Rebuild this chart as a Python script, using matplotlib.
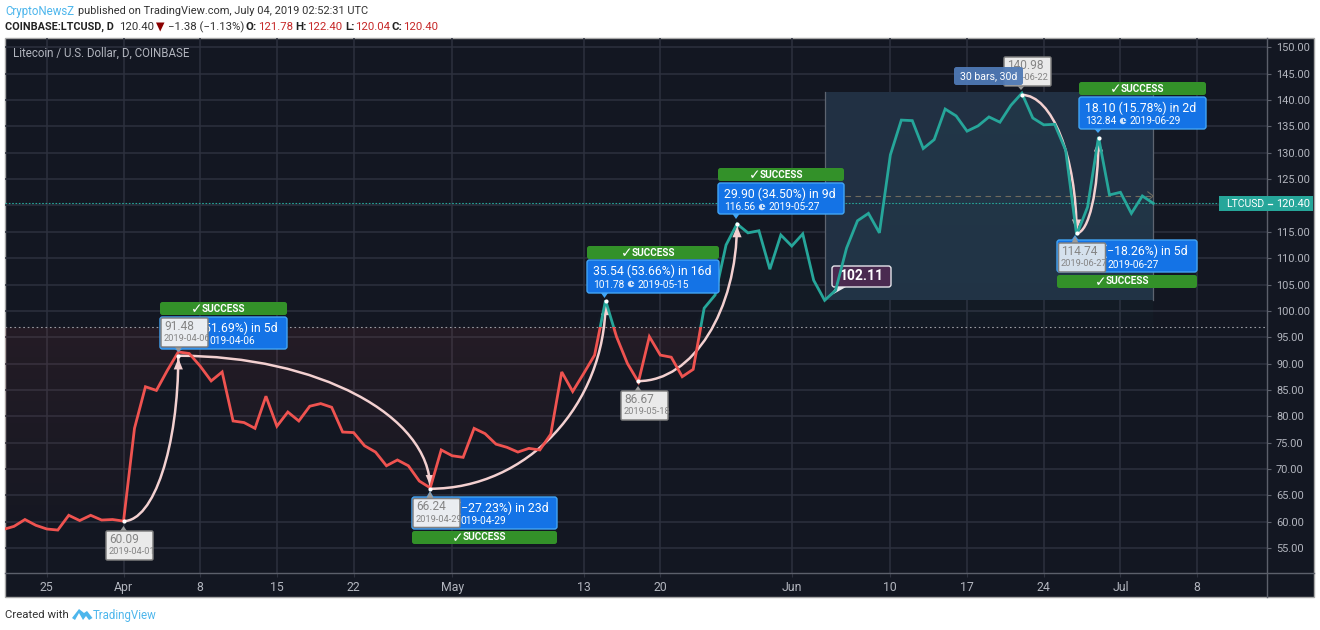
import numpy as np
import pandas as pd
import matplotlib

matplotlib.use("Agg")
import matplotlib.dates as mdates
import matplotlib.pyplot as plt
from matplotlib.patches import Circle, FancyBboxPatch, PathPatch, Polygon, Rectangle
from matplotlib.path import Path
from matplotlib.transforms import Affine2D

plt.rcParams["font.family"] = ["Roboto", "DejaVu Sans"]

start_date = "2019-03-21"
close = [
    58.5, 59.1, 60.4, 59.3, 58.6, 58.4, 61.2, 60.2, 61.2, 60.3, 60.4,
    60.1, 77.7, 85.6, 84.9, 88.7, 92.2, 91.9, 89.5, 86.7, 88.4, 79.1,
    78.8, 77.7, 83.8, 78.1, 80.8, 79.1, 81.9, 82.4, 81.7, 77.0, 76.9,
    74.4, 73.2, 70.6, 71.7, 70.6, 67.7, 66.4, 73.6, 72.5, 72.2, 77.7,
    76.7, 74.7, 74.1, 73.2, 73.9, 73.6, 76.6, 88.4, 84.7, 88.1, 91.6,
    102.0, 95.1, 90.0, 86.5, 95.1, 91.6, 91.2, 87.5, 88.9, 100.5, 103.0,
    112.5, 116.5, 114.8, 115.2, 107.9, 114.4, 112.3, 114.6, 105.8, 102.0,
    103.9, 111.9, 117.1, 118.5, 114.8, 129.6, 136.2, 136.1, 130.8, 132.5,
    138.3, 137.0, 134.1, 135.1, 136.8, 135.8, 139.0, 141.3, 136.6, 135.3,
    135.4, 130.5, 114.4, 119.7, 133.0, 122.0, 122.5, 118.5, 121.8, 120.4,
]
baseline = 96.85
last_price = 120.40
open_price = 121.78

price_ticks = [55, 60, 65, 70, 75, 80, 85, 90, 95, 100, 105, 110, 115, 120,
               125, 130, 135, 140, 145, 150]
date_ticks = ["2019-03-25", "2019-04-01", "2019-04-08", "2019-04-15", "2019-04-22",
              "2019-05-01", "2019-05-13", "2019-05-20", "2019-06-01", "2019-06-10",
              "2019-06-17", "2019-06-24", "2019-07-01", "2019-07-08"]
date_labels = ["25", "Apr", "8", "15", "22", "May", "13", "20", "Jun", "10",
               "17", "24", "Jul", "8"]

# swing points joined by the curved arrows
swing_dates = ["2019-04-01", "2019-04-06", "2019-04-29", "2019-05-15", "2019-05-18",
               "2019-05-27", "2019-06-22", "2019-06-27", "2019-06-29"]
swing_prices = [60.09, 91.48, 66.24, 101.78, 86.67, 116.56, 140.98, 114.74, 132.84]
arc_pairs = [(0, 1), (1, 2), (2, 3), (4, 5), (6, 7), (7, 8)]

range_dates = ["2019-06-04", "2019-07-04"]
range_prices = [102.11, 141.46]

BG = "#131722"
GRID = "#2d313e"
AXIS = "#5c606b"
TICK = "#b2b5be"
RED = "#ef5350"
TEAL = "#26a69a"
BLUE = "#1473e6"
BLUE_EDGE = "#42a5f5"
GREEN = "#339129"
ARC = "#f3d0d0"
LINK = "#4db6ec"

fig = plt.figure(figsize=(13.2, 6.3), dpi=100, facecolor="white")
# axes placed by pixels of the 1320x630 canvas
ax = fig.add_axes([5 / 1320, 1 - 573 / 630, 1262 / 1320, 535 / 630])
ax.set_facecolor("none")
px = Affine2D().scale(1, -1).translate(0, 630)

fig.add_artist(Rectangle((5, 38), 1309, 559, transform=px, fc=BG, ec="#a8a8a8", lw=1, zorder=-1))

dates = pd.date_range(start_date, periods=len(close))
x = mdates.date2num(dates)
y = np.array(close)
apr1 = mdates.date2num(pd.Timestamp("2019-04-01"))
x_lim = (apr1 - 10.82, apr1 + 104.38)
y_lim = (50.25, 151.78)


def num(day):
    return mdates.date2num(pd.Timestamp(day))


# grid, axes and ticks; the 120.00 label is covered by the last price tag
ax.set_xticks([num(d) for d in date_ticks], date_labels)
ax.set_yticks(price_ticks, ["" if p == 120 else f"{p:.2f}" for p in price_ticks])
ax.yaxis.tick_right()
ax.grid(True, color=GRID, lw=1.1, zorder=0)
ax.set_axisbelow(True)
ax.tick_params(axis="x", colors=GRID, length=3, labelcolor=TICK, labelsize=8.8, pad=3)
ax.tick_params(axis="y", colors=AXIS, length=3, labelcolor=TICK, labelsize=7.9, pad=3.5)
for spine in ax.spines.values():
    spine.set_visible(False)

# measured date range box
r0, r1 = num(range_dates[0]), num(range_dates[1])
ax.add_patch(Rectangle((r0, range_prices[0]), r1 - r0, range_prices[1] - range_prices[0],
                       fc="#213043", ec="none", zorder=1))
ax.plot([r0, r0], range_prices, color="#5d6470", lw=0.9, zorder=1.5)
ax.plot([r1, r1], range_prices, color="#5d6470", lw=0.9, zorder=1.5)
ax.plot([r0, r1], [open_price, open_price], color="#6f6a5e", lw=0.8, ls=(0, (5, 4)), zorder=1.5)
ax.plot([r1 - 0.5, r1, r1 - 0.5], [open_price + 0.8, open_price, open_price - 0.8],
        color="#6f6a5e", lw=0.8, zorder=1.5)

# baseline fills with a fading tint
below = ax.fill_between(x, np.minimum(y, baseline), baseline, color="none", lw=0)
above = ax.fill_between(x, np.maximum(y, baseline), baseline, color="none", lw=0)


def gradient(rgb, top_alpha, low_alpha, top_y, low_y, clip):
    rgba = np.zeros((64, 1, 4))
    rgba[..., :3] = rgb
    rgba[..., 3] = np.linspace(top_alpha, low_alpha, 64)[:, None]
    im = ax.imshow(rgba, extent=(x_lim[0], x_lim[1], low_y, top_y), origin="upper",
                   aspect="auto", zorder=1.2)
    im.set_clip_path(clip.get_paths()[0], transform=ax.transData)


gradient((0.94, 0.33, 0.31), 0.08, 0.0, baseline, 52, below)
gradient((0.15, 0.65, 0.60), 0.06, 0.03, 141, baseline, above)

# baseline and last price lines
ax.axhline(baseline, color="#9a9ca3", lw=0.8, ls=(0, (1.5, 2.5)), zorder=1.6)
ax.plot([x_lim[0], x_lim[1] - 4.3], [last_price] * 2, color=TEAL, lw=0.8,
        ls=(0, (1.5, 1.5)), zorder=1.6)


def swing(i):
    return num(swing_dates[i]), swing_prices[i]


# curved arrows between swing points, quarter ellipse shape
K = 0.5523
for a, b in arc_pairs:
    x0, y0 = swing(a)
    x1, y1 = swing(b)
    verts = [(x0, y0), (x0 + K * (x1 - x0), y0), (x1, y1 - K * (y1 - y0)), (x1, y1)]
    ax.add_patch(PathPatch(Path(verts, [Path.MOVETO, Path.CURVE4, Path.CURVE4, Path.CURVE4]),
                           fc="none", ec=ARC, lw=1.8, zorder=2))
    sign = -1 if y1 > y0 else 1
    ax.add_patch(Polygon([(x1, y1 + sign * 0.5), (x1 - 0.42, y1 + sign * 2.6), (x1 + 0.42, y1 + sign * 2.6)],
                         fc=ARC, ec="none", zorder=2))

# price line, red under the baseline and teal over it
for color, low, high in [(RED, y_lim[0], baseline), (TEAL, baseline, y_lim[1])]:
    line, = ax.plot(x, y, color=color, lw=2.0, zorder=3, solid_joinstyle="miter")
    line.set_clip_path(Rectangle((x_lim[0], low), x_lim[1] - x_lim[0], high - low,
                                 transform=ax.transData))

ax.plot([num(d) for d in swing_dates], swing_prices, ls="none", marker="o", ms=3,
        mfc="white", mec="none", zorder=3.5)

ax.set_xlim(*x_lim)
ax.set_ylim(*y_lim)
ax.set_autoscale_on(False)


def put_text(px_x, px_y, s, size=8.5, color="white", ha="left", weight="normal", z=8):
    ax.text(px_x, px_y + 1, s, transform=px, fontsize=size, color=color, ha=ha, va="center",
            fontweight=weight, zorder=z, clip_on=False)


def put_box(left, top, right, bottom, fc, ec="none", lw=0.0, alpha=1.0, z=6, rounding=2.5):
    ax.add_patch(FancyBboxPatch((left, top), right - left, bottom - top,
                                boxstyle=f"round,pad=0,rounding_size={rounding}",
                                transform=px, fc=fc, ec=ec, lw=lw, alpha=alpha, zorder=z,
                                clip_on=False))


def put_tip(tip_x, tip_y, base_y, fc, z=6, half=3.5):
    ax.add_patch(Polygon([(tip_x, tip_y), (tip_x - half, base_y), (tip_x + half, base_y)],
                         transform=px, fc=fc, ec="none", zorder=z, clip_on=False))


def success_box(left, right, bar_top, blue_top, blue_bottom, tip_x, tip_y, row1, value, day,
                row1_right=None, day_x=None):
    mid = (left + right) / 2
    put_box(left, bar_top, right, bar_top + 13, GREEN)
    put_text(mid - 26.5, bar_top + 6, "✓", size=10, ha="center", z=6.5)
    put_text(mid, bar_top + 5.5, "SUCCESS", size=7.2, ha="center", weight="bold", z=6.5)
    put_box(left, blue_top, right, blue_bottom, BLUE, ec=BLUE_EDGE, lw=1.0)
    base = blue_bottom if tip_y > blue_bottom else blue_top
    put_tip(tip_x, tip_y, base, BLUE_EDGE)
    row2 = blue_top + 23.5
    if row1_right is None:
        put_text(left + 6, blue_top + 10, row1, size=8.8, z=6.5)
    else:
        put_text(row1_right, blue_top + 10, row1, size=8.8, ha="right", z=6.5)
    if value is not None:
        put_text(left + 6, row2, value, size=7.3, z=6.5)
        ax.add_patch(Circle((left + 44, row2 + 0.5), 3.2, transform=px, fc="#cfe2fa", ec="none",
                            zorder=6.5, clip_on=False))
        ax.plot([left + 44, left + 44, left + 46], [row2 - 1.5, row2 + 0.5, row2 + 0.5], transform=px,
                color=BLUE, lw=0.7, zorder=6.6, clip_on=False)
    put_text(left + 50.5 if day_x is None else day_x, row2, day, size=7.3, z=6.5)


def price_label(left, top, price, day, tip_x, tip_y, fc="#f2f2f2", z=7, day_right=None):
    right, bottom = left + 47, top + 29
    base = bottom if tip_y > bottom else top
    put_tip(tip_x, tip_y, base, "#9a9a9a", z=z)
    put_box(left, top, right, bottom, fc, ec="#7f7f7f", lw=1.1, alpha=0.97, z=z, rounding=1.5)
    put_text(left + 3, top + 7.5, f"{price:.2f}", size=8.6, color="#858585", z=z + 0.5)
    if day_right is None:
        put_text(left + 2.5, top + 19.5, day, size=6.7, color="#858585", z=z + 0.5)
    else:
        put_text(day_right, top + 19.5, day, size=6.7, color="#858585", ha="right", z=z + 0.5)


# success labels, the grey labels sit over their left part
success_box(160, 287, 302, 317, 349, 178.5, 352, "51.69%) in 5d", None, "019-04-06",
            row1_right=277.5, day_x=209)
success_box(412, 557, 531, 497, 529, 430, 491, "(−27.23%) in 23d", None, "019-04-29",
            row1_right=549, day_x=460)
success_box(587, 719, 246, 260, 293, 604.5, 298, "35.54 (53.66%) in 16d", "101.78", "2019-05-15")
success_box(718, 844, 168, 183, 214, 736, 219, "29.90 (34.50%) in 9d", "116.56", "2019-05-27")
success_box(1079, 1206, 82, 97, 129, 1098, 133, "18.10 (15.78%) in 2d", "132.84", "2019-06-29")
success_box(1057, 1197, 275, 240, 272, 1075, 235, "(−18.26%) in 5d", None, "2019-06-27",
            row1_right=1188, day_x=1108)

# grey price labels
price_label(106, 531, 60.09, "2019-04-01", 123.5, 526)
price_label(161, 318, 91.48, "2019-04-06", 178.5, 352)
price_label(413, 498.5, 66.24, "2019-04-29", 430, 491)
price_label(621, 391, 86.67, "2019-05-18", 638, 386)
price_label(1004, 57, 140.98, "-06-22", 1021, 90, day_right=1049)
price_label(1058.5, 243, 114.74, "2019-06-27", 1075, 236, fc="#dde6ee")

# range info on top of the high label
put_box(954, 67, 1023, 85, "#4f79b5", alpha=0.95, z=7.8)
put_text(988.5, 75.5, "30 bars, 30d", size=7.6, ha="center", z=8)

# price note, below the line
put_box(832, 266, 891, 287, "#4a2a50", ec="#e6e6ec", lw=1.0, z=2.5)
ax.add_patch(Polygon([(836, 287), (846, 287), (830, 296)], transform=px, fc="#e6e6ec", ec="none",
                     zorder=2.4, clip_on=False))
put_text(861.5, 275.5, "102.11", size=10, ha="center", weight="bold", z=2.6)

# chrome drawn by hand
ax.plot([1267, 1267], [38, 597], transform=px, color=AXIS, lw=1.0, zorder=4, clip_on=False)
ax.plot([5, 1314], [573, 573], transform=px, color=AXIS, lw=1.0, zorder=4, clip_on=False)
put_box(1219, 196, 1313, 211, TEAL, z=5, rounding=0)
put_text(1226, 203, "LTCUSD", size=7.5, z=5.5)
ax.plot([1268, 1272], [203.5, 203.5], transform=px, color="white", lw=0.9, zorder=5.5, clip_on=False)
put_text(1276, 203, "120.40", size=7.9, z=5.5)
put_text(13, 52, "Litecoin / U.S. Dollar, D, COINBASE", size=8.3, color=TICK)

# header and footer on white
put_text(5, 10, "CryptoNewsZ", size=8.3, color=LINK)
put_text(77.5, 10, "published on TradingView.com, July 04, 2019 02:52:31 UTC", size=7.9, color="#333333")
put_text(5, 26, "COINBASE:LTCUSD, D", size=7.8, color="#222222", weight="bold")
put_text(119, 26, "120.40", size=8.2, color="#333333")
ax.add_patch(Polygon([(156, 22.5), (164.5, 22.5), (160.2, 31.5)], transform=px, fc="#8b0000",
                     ec="none", zorder=8, clip_on=False))
put_text(168, 26, "−1.38 (−1.13%)", size=8.2, color="#333333")
for lx, name, vx, val in [(245, "O:", 258, "121.78"), (295, "H:", 307, "122.40"),
                          (345, "L:", 355, "120.04"), (392, "C:", 403, "120.40")]:
    put_text(lx, 26, name, size=8.2, color="#222222", weight="bold")
    put_text(vx, 26, val, size=8.2, color="#c62828")

put_text(5, 614, "Created with", size=8.2, color="#333333")
ax.add_patch(Polygon([(72, 618), (79, 609), (84, 613), (87, 611), (92.5, 618), (89, 620),
                      (86, 616), (83, 620), (79, 613), (75, 620)],
                     transform=px, fc=LINK, ec="none", zorder=8, clip_on=False))
put_text(93, 614, "TradingView", size=8.3, color=LINK)

fig.savefig("out.png", dpi=100, facecolor="white")
